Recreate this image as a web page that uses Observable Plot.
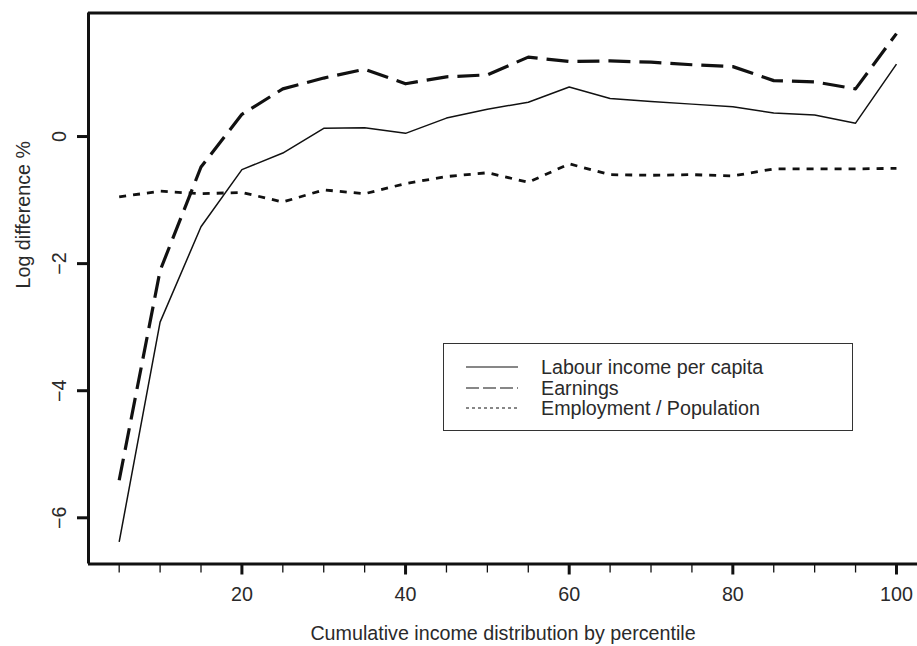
<!DOCTYPE html>
<html>
<head>
<meta charset="utf-8">
<script src="https://cdn.jsdelivr.net/npm/d3@7"></script>
<script src="https://cdn.jsdelivr.net/npm/@observablehq/plot@0.6"></script>
<style>
  html, body { margin: 0; padding: 0; background: #fff; }
  #chart { position: relative; width: 917px; height: 646px; font-family: "Liberation Sans", Arial, sans-serif; color: #2a2a2a; }
  #legend {
    position: absolute; left: 443px; top: 343px; width: 408px; height: 86px;
    border: 1.5px solid #333; background: #fff; box-sizing: content-box;
    font-size: 19.7px;
  }
  #legend svg { position: absolute; left: 22px; }
  #legend span { position: absolute; left: 97px; white-space: nowrap; line-height: 20px; }
</style>
</head>
<body>
<div id="chart"></div>
<script>
// Percentile of the cumulative income distribution
const percentiles = [5, 10, 15, 20, 25, 30, 35, 40, 45, 50, 55, 60, 65, 70, 75, 80, 85, 90, 95, 100];

// Log difference (%) by series
const labourIncome = [-6.38, -2.92, -1.42, -0.52, -0.26, 0.13, 0.14, 0.05, 0.29, 0.43, 0.54, 0.78, 0.60, 0.55, 0.51, 0.47, 0.37, 0.34, 0.21, 1.14];
const earnings     = [-5.41, -2.11, -0.48, 0.35, 0.75, 0.92, 1.06, 0.83, 0.94, 0.97, 1.25, 1.18, 1.19, 1.17, 1.13, 1.10, 0.88, 0.86, 0.75, 1.62];
const employment   = [-0.95, -0.86, -0.90, -0.88, -1.03, -0.84, -0.90, -0.74, -0.63, -0.57, -0.72, -0.43, -0.60, -0.61, -0.60, -0.62, -0.51, -0.51, -0.51, -0.50];

// Series names and their line styles
const seriesNames = ["Labour income per capita", "Earnings", "Employment / Population"];
const seriesValues = [labourIncome, earnings, employment];
const lineStyles = [
  {strokeWidth: 1.5, strokeDasharray: null},
  {strokeWidth: 3.2, strokeDasharray: "22,9"},
  {strokeWidth: 2.8, strokeDasharray: "7,7"}
];
const legendStyles = [
  {strokeWidth: 1.2, dash: null},
  {strokeWidth: 1.2, dash: "13,4"},
  {strokeWidth: 1.2, dash: "3,3"}
];

// Axis ticks
const xMajorTicks = [20, 40, 60, 80, 100];
const xMinorTicks = percentiles.filter(p => !xMajorTicks.includes(p));
const yTicks = [-6, -4, -2, 0];

const xAxisTitle = "Cumulative income distribution by percentile";
const yAxisTitle = "Log difference %";

// Tidy rows for the line marks
const rows = seriesNames.flatMap((name, s) =>
  percentiles.map((p, i) => ({series: name, pct: p, value: seriesValues[s][i]}))
);

const xDomain = [1.25, 102.57];
const yDomain = [-6.727, 1.944];
const ink = "#111";
const textInk = "#2a2a2a";

const plot = Plot.plot({
  width: 917,
  height: 646,
  marginLeft: 88,
  marginRight: 0,
  marginTop: 12.5,
  marginBottom: 82.5,
  style: {fontFamily: "'Liberation Sans', Arial, sans-serif", fontSize: "19.7px", color: textInk, background: "#fff"},
  x: {domain: xDomain, label: null},
  y: {domain: yDomain, label: null},
  marks: [
    // plot box (left, bottom and top edges)
    Plot.ruleX([xDomain[0]], {stroke: ink, strokeWidth: 3}),
    Plot.ruleY([yDomain[0], yDomain[1]], {stroke: ink, strokeWidth: 3}),
    // x axis: minor ticks, then labelled major ticks
    Plot.axisX({ticks: xMinorTicks, tickSize: 9, strokeWidth: 1.3, stroke: ink, tickFormat: () => "", label: null}),
    Plot.axisX({ticks: xMajorTicks, tickSize: 11, strokeWidth: 3, stroke: ink, tickPadding: 12, tickFormat: d3.format("d"), label: null, fill: textInk}),
    // y axis with rotated labels
    Plot.axisY({ticks: yTicks, tickSize: 11, strokeWidth: 3, stroke: ink, tickRotate: -90, tickPadding: 12, tickFormat: d3.format("d"), label: null, fill: textInk}),
    // series lines
    ...seriesNames.map((name, s) =>
      Plot.line(rows.filter(r => r.series === name), {
        x: "pct", y: "value", stroke: ink,
        strokeWidth: lineStyles[s].strokeWidth,
        strokeDasharray: lineStyles[s].strokeDasharray,
        strokeLinecap: "butt", strokeLinejoin: "round"
      })
    ),
    // axis titles
    Plot.text([yAxisTitle], {text: d => d, frameAnchor: "left", dx: -65, rotate: -90, fill: textInk}),
    Plot.text([xAxisTitle], {text: d => d, frameAnchor: "bottom", dy: 76, fill: textInk})
  ]
});

const chart = document.getElementById("chart");
chart.appendChild(plot);

// Legend box
const legend = document.createElement("div");
legend.id = "legend";
seriesNames.forEach((name, s) => {
  const top = [13, 33.5, 54][s];
  const sample = document.createElementNS("http://www.w3.org/2000/svg", "svg");
  sample.setAttribute("width", 52);
  sample.setAttribute("height", 20);
  sample.style.top = top + "px";
  const ln = document.createElementNS("http://www.w3.org/2000/svg", "line");
  ln.setAttribute("x1", 0); ln.setAttribute("x2", 52);
  ln.setAttribute("y1", 10); ln.setAttribute("y2", 10);
  ln.setAttribute("stroke", ink);
  ln.setAttribute("stroke-width", legendStyles[s].strokeWidth);
  if (legendStyles[s].dash) ln.setAttribute("stroke-dasharray", legendStyles[s].dash);
  sample.appendChild(ln);
  const label = document.createElement("span");
  label.textContent = name;
  label.style.top = top + "px";
  legend.appendChild(sample);
  legend.appendChild(label);
});
chart.appendChild(legend);
</script>
</body>
</html>
